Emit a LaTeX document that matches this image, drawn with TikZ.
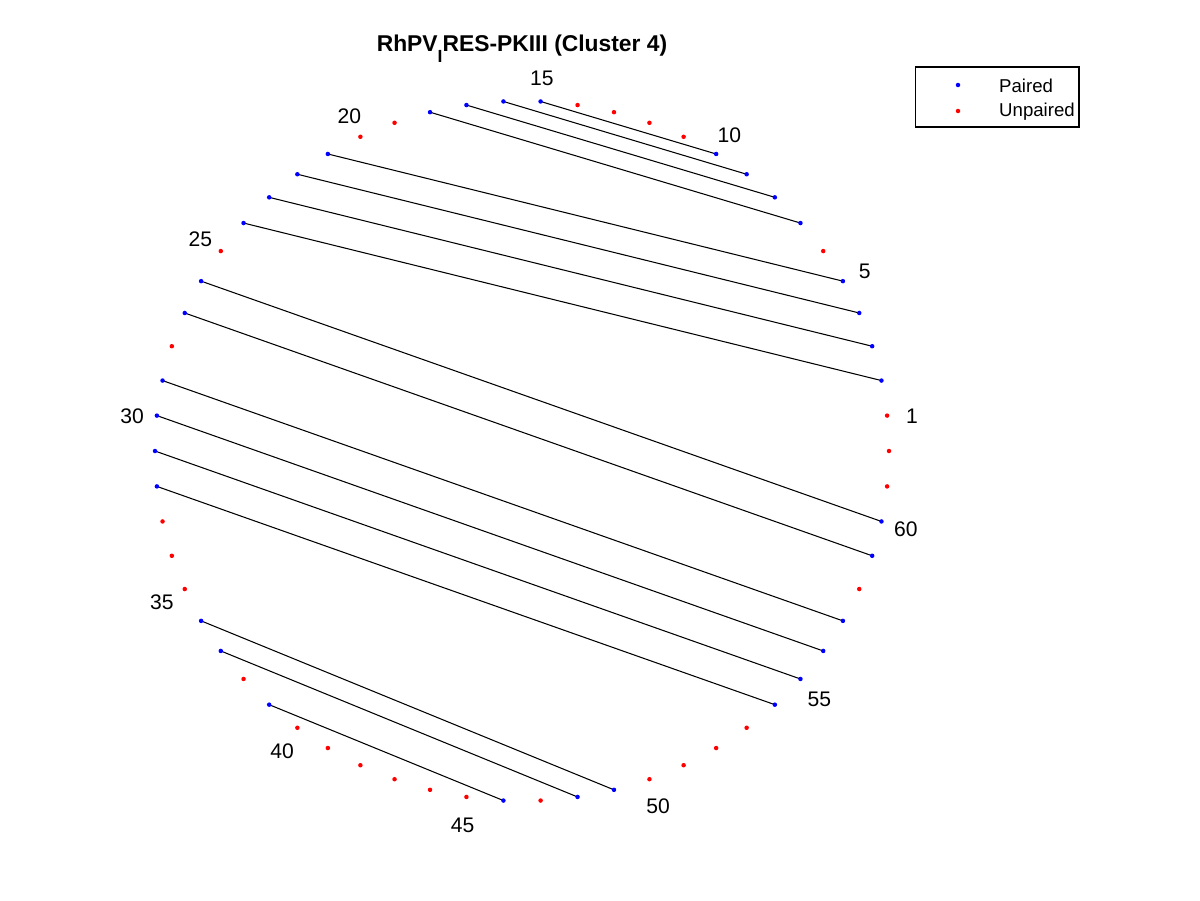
\documentclass[tikz,border=0pt]{standalone}
\usepackage{fontspec}
\setmainfont{Liberation Sans}
\usepackage{tikz}
\usepackage{xcolor}
\definecolor{pairblue}{RGB}{0,0,255}
\definecolor{unpairred}{RGB}{255,0,0}

\begin{document}
\begin{tikzpicture}[x=0.02cm,y=-0.02cm,
        dot/.style={circle,inner sep=0pt,minimum size=0.09cm},
        paired/.style={dot,fill=pairblue},
        unpaired/.style={dot,fill=unpairred},
        bond/.style={black,line width=0.6pt},
        lbl/.style={font=\fontsize{12}{14}\selectfont},
        legtext/.style={anchor=west,font=\fontsize{10.6}{12}\selectfont},
        legbox/.style={draw=black,line width=0.6pt,minimum width=3.28cm,minimum height=1.2cm}]
        \useasboundingbox (0,0) rectangle (1200,900);
        % bases on the circle
        \foreach \k in {1,...,62}
          \coordinate (p\k) at ({522+367*cos(360/62*\k)},{451-350*sin(360/62*\k)});
        % base pairs
        \foreach \a/\b in {2/24,3/23,4/22,5/21,7/18,8/17,9/16,10/15,
                           26/60,27/59,29/57,30/56,31/55,32/54,36/49,37/48,39/46}
          \draw[bond] (p\a) -- (p\b);
        \foreach \k in {2,3,4,5,7,8,9,10,15,16,17,18,21,22,23,24,26,27,29,30,31,32,
                        36,37,39,46,48,49,54,55,56,57,59,60}
          \node[paired] (d\k) at (p\k) {};
        \foreach \k in {1,6,11,12,13,14,19,20,25,28,33,34,35,38,40,41,42,43,44,45,
                        47,50,51,52,53,58,61,62}
          \node[unpaired] (d\k) at (p\k) {};
        % position labels
        \foreach \k in {1,5,10,...,60}
          \node[lbl] (l\k) at ({522+392*cos(360/62*\k)},{454-376*sin(360/62*\k)}) {\k};
        \node[font=\bfseries\fontsize{13}{15}\selectfont] (title) at (522,49)
          {RhPV\raisebox{-0.5em}{\fontsize{10}{11}\selectfont I}RES-PKIII (Cluster 4)};
        % legend
        \node[legbox] (leg) at (997,97) {};
        \node[paired] (lp) at (958,85) {};
        \node[unpaired] (lu) at (958,111) {};
        \node[legtext] (tp) at (993,86) {Paired};
        \node[legtext] (tu) at (993,112) {Unpaired};
      \end{tikzpicture}
\end{document}
